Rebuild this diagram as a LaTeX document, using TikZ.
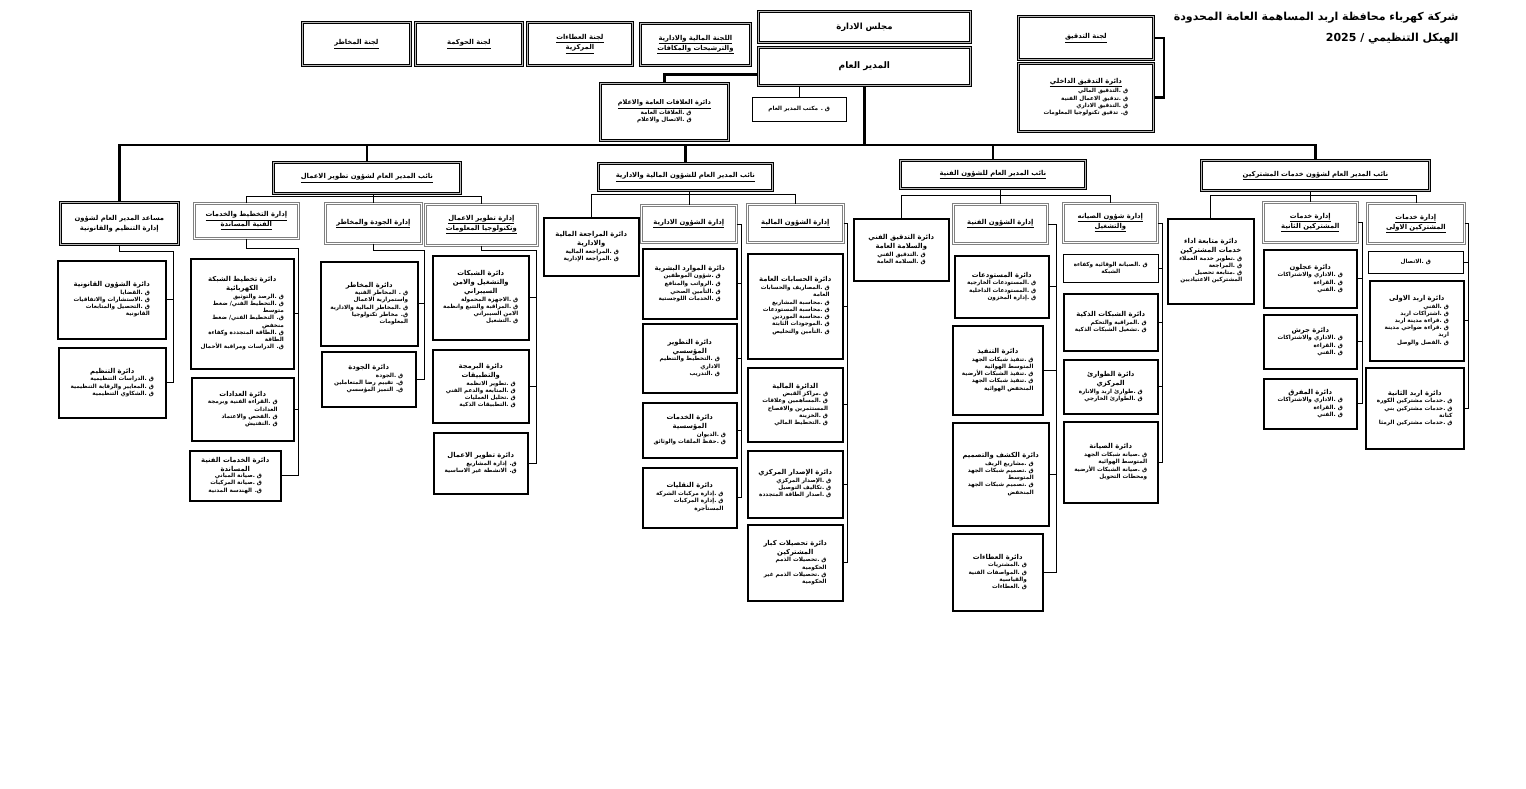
\documentclass[tikz,border=0pt]{standalone}
\usepackage{fontspec}
\newfontfamily\arfont[Script=Arabic]{DejaVu Sans}
\TeXXeTstate=1
\newcommand\ar[1]{\beginR#1\endR}
\newcommand\uar[1]{\underline{\beginR#1\endR}}
\newcommand\qlist[1]{{\fontsize{5.7}{7.2}\selectfont\begin{tabular}{@{}r@{}}#1\end{tabular}}}

\begin{document}
\begin{tikzpicture}[x=1pt,y=-1pt,
        box/.style={fill=white,anchor=north west,inner sep=1pt,align=center,
            font=\arfont\bfseries\fontsize{6.8}{9}\selectfont},
        cbox/.style={box,draw,line width=0.8pt,double=gray!55,double distance=1.4pt,
            font=\arfont\bfseries\fontsize{6.8}{10}\selectfont},
        abox/.style={box,draw=gray,line width=0.7pt,double=white,double distance=0.9pt,
            font=\arfont\bfseries\fontsize{6.8}{10}\selectfont},
        dbox/.style={box,draw,line width=1.5pt},
        qbox/.style={box,draw,line width=0.5pt,font=\arfont\bfseries\fontsize{5.7}{7.2}\selectfont},
        bus/.style={line width=2.4pt},
        lnk/.style={line width=0.7pt}]
                \useasboundingbox (0,0) rectangle (1526,789);
                \node[anchor=north east,align=right,font=\arfont\bfseries\fontsize{11}{21}\selectfont] (ttl) at (1462,9)
                    {\ar{شركة كهرباء محافظة اربد المساهمة العامة المحدودة}\\\ar{الهيكل التنظيمي / 2025}};
                \node[cbox,minimum width=108,minimum height=43] (crisk) at (302,22) {\uar{لجنة المخاطر}};
                \node[cbox,minimum width=107,minimum height=43] (cgov) at (415,22) {\uar{لجنة الحوكمة}};
                \node[cbox,minimum width=105,minimum height=43] (ctend) at (527,22) {\uar{لجنة العطاءات}\\\uar{المركزية}};
                \node[cbox,minimum width=110,minimum height=42] (cfin) at (640,23) {\uar{اللجنة المالية والادارية}\\\uar{والترشيحات والمكافات}};
                \node[cbox,minimum width=212,minimum height=31,font=\arfont\bfseries\fontsize{8.5}{10}\selectfont] (board) at (758,11) {\ar{مجلس الادارة}};
                \node[cbox,minimum width=212,minimum height=38,font=\arfont\bfseries\fontsize{9}{10}\selectfont] (gm) at (758,47) {\ar{المدير العام}};
                \node[cbox,minimum width=135,minimum height=43] (caud) at (1018,16) {\uar{لجنة التدقيق}};
                \node[cbox,minimum width=135,minimum height=68] (iaud) at (1018,63) {\uar{دائرة التدقيق الداخلي}\\
                    \qlist{\ar{ق .التدقيق المالي}\\\ar{ق .تدقيق الاعمال الفنية}\\\ar{ق .التدقيق الاداري}\\\ar{ق. تدقيق تكنولوجيا المعلومات}}};
                \node[cbox,minimum width=128,minimum height=57,font=\arfont\bfseries\fontsize{6.5}{8.5}\selectfont] (pr) at (600,83) {\uar{دائرة العلاقات العامة والاعلام}\\
                    \qlist{\ar{ق .العلاقات العامة}\\\ar{ق .الاتصال والاعلام}}};
                \node[qbox,minimum width=94,minimum height=24] (gmo) at (752,97) {\ar{ق . مكتب المدير العام}};
                \node[cbox,minimum width=228,minimum height=30] (dcs) at (1201,160) {\uar{نائب المدير العام لشؤون خدمات المشتركين}};
                \node[cbox,minimum width=185,minimum height=28] (dtech) at (900,160) {\uar{نائب المدير العام للشؤون الفنية}};
                \node[cbox,minimum width=174,minimum height=27] (dfin) at (598,163) {\uar{نائب المدير العام للشؤون المالية والادارية}};
                \node[cbox,minimum width=187,minimum height=31] (dbiz) at (273,162) {\uar{نائب المدير العام لشؤون تطوير الاعمال}};
                \node[cbox,minimum width=118,minimum height=42] (asst) at (60,202) {\ar{مساعد المدير العام لشؤون}\\\ar{إدارة التنظيم والقانونية}};
                \node[dbox,minimum width=86,minimum height=85] (follow) at (1167,218) {\ar{دائرة متابعة اداء}\\\ar{خدمات المشتركين}\\
                    \qlist{\ar{ق .تطوير خدمة العملاء}\\\ar{ق .المراجعة}\\\ar{ق .متابعة تحصيل}\\\ar{المشتركين الاعتياديين}}};
                \node[abox,minimum width=94,minimum height=40] (adm2) at (1263,202) {\uar{إدارة خدمات}\\\uar{المشتركين الثانية}};
                \node[abox,minimum width=97,minimum height=40] (adm1) at (1367,203) {\uar{إدارة خدمات}\\\uar{المشتركين الاولى}};
                \node[dbox,minimum width=93,minimum height=58] (ajl) at (1263,249) {\ar{دائرة عجلون}\\
                    \qlist{\ar{ق .الاداري والاشتراكات}\\\ar{ق .القراءة}\\\ar{ق .الفني}}};
                \node[dbox,minimum width=93,minimum height=54] (jrs) at (1263,314) {\ar{دائرة جرش}\\
                    \qlist{\ar{ق .الاداري والاشتراكات}\\\ar{ق .القراءة}\\\ar{ق .الفني}}};
                \node[dbox,minimum width=93,minimum height=50] (mfq) at (1263,378) {\ar{دائرة المفرق}\\
                    \qlist{\ar{ق .الاداري والاشتراكات}\\\ar{ق .القراءة}\\\ar{ق .الفني}}};
                \node[qbox,minimum width=95,minimum height=22] (conn) at (1368,251) {\ar{ق .الاتصال}};
                \node[dbox,minimum width=94,minimum height=80] (irb1) at (1369,280) {\ar{دائرة اربد الاولى}\\
                    \qlist{\ar{ق .الفني}\\\ar{ق .اشتراكات اربد}\\\ar{ق .قراءة مدينة اربد}\\\ar{ق .قراءة ضواحي مدينة}\\\ar{اربد}\\\ar{ق .الفصل والوصل}}};
                \node[dbox,minimum width=98,minimum height=81] (irb2) at (1365,367) {\ar{دائرة اربد الثانية}\\
                    \qlist{\ar{ق .خدمات مشتركين الكورة}\\\ar{ق .خدمات مشتركين بني}\\\ar{كنانة}\\\ar{ق .خدمات مشتركين الرمثا}}};
                \node[dbox,minimum width=95,minimum height=62] (taud) at (853,218) {\ar{دائرة التدقيق الفني}\\\ar{والسلامة العامة}\\
                    \qlist{\ar{ق .التدقيق الفني}\\\ar{ق .السلامة العامة}}};
                \node[abox,minimum width=94,minimum height=39] (atech) at (953,204) {\uar{إدارة الشؤون الفنية}};
                \node[abox,minimum width=94,minimum height=39] (amnt) at (1063,203) {\uar{إدارة شؤون الصيانه}\\\uar{والتشغيل}};
                \node[dbox,minimum width=94,minimum height=62] (stor) at (954,255) {\ar{دائرة المستودعات}\\
                    \qlist{\ar{ق .المستودعات الخارجية}\\\ar{ق .المستودعات الداخلية}\\\ar{ق .إدارة المخزون}}};
                \node[dbox,minimum width=90,minimum height=89] (exe) at (952,325) {\ar{دائرة التنفيذ}\\
                    \qlist{\ar{ق .تنفيذ شبكات الجهد}\\\ar{المتوسط الهوائية}\\\ar{ق .تنفيذ الشبكات الأرضية}\\\ar{ق .تنفيذ شبكات الجهد}\\\ar{المنخفض الهوائية}}};
                \node[dbox,minimum width=96,minimum height=103] (dsgn) at (952,422) {\ar{دائرة الكشف والتصميم}\\
                    \qlist{\ar{ق .مشاريع الريف}\\\ar{ق .تصميم شبكات الجهد}\\\ar{المتوسط}\\\ar{ق .تصميم شبكات الجهد}\\\ar{المنخفض}}};
                \node[dbox,minimum width=90,minimum height=77] (tend) at (952,533) {\ar{دائرة العطاءات}\\
                    \qlist{\ar{ق .المشتريات}\\\ar{ق .المواصفات الفنية}\\\ar{والقياسية}\\\ar{ق .العطاءات}}};
                \node[qbox,minimum width=95,minimum height=28] (prev) at (1063,254) {\ar{ق .الصيانة الوقائية وكفاءة}\\\ar{الشبكة}};
                \node[dbox,minimum width=94,minimum height=57] (smart) at (1063,293) {\ar{دائرة الشبكات الذكية}\\
                    \qlist{\ar{ق .المراقبة والتحكم}\\\ar{ق .تشغيل الشبكات الذكية}}};
                \node[dbox,minimum width=94,minimum height=54] (emer) at (1063,359) {\ar{دائرة الطوارئ}\\\ar{المركزي}\\
                    \qlist{\ar{ق .طوارئ اربد والانارة}\\\ar{ق .الطوارئ الخارجي}}};
                \node[dbox,minimum width=94,minimum height=81] (maint) at (1063,421) {\ar{دائرة الصيانة}\\
                    \qlist{\ar{ق .صيانة شبكات الجهد}\\\ar{المتوسط الهوائية}\\\ar{ق .صيانة الشبكات الأرضية}\\\ar{ومحطات التحويل}}};
                \node[dbox,minimum width=95,minimum height=58] (rev) at (543,217) {\ar{دائرة المراجعة المالية}\\\ar{والادارية}\\
                    \qlist{\ar{ق .المراجعة المالية}\\\ar{ق .المراجعة الإدارية}}};
                \node[abox,minimum width=95,minimum height=37] (aadm) at (641,205) {\uar{إدارة الشؤون الادارية}};
                \node[abox,minimum width=96,minimum height=38] (afin) at (747,204) {\uar{إدارة الشؤون المالية}};
                \node[dbox,minimum width=94,minimum height=70] (hr) at (642,248) {\ar{دائرة الموارد البشرية}\\
                    \qlist{\ar{ق .شؤون الموظفين}\\\ar{ق .الرواتب والمنافع}\\\ar{ق .التأمين الصحي}\\\ar{ق .الخدمات اللوجستية}}};
                \node[dbox,minimum width=94,minimum height=69] (idev) at (642,323) {\ar{دائرة التطوير}\\\ar{المؤسسي}\\
                    \qlist{\ar{ق .التخطيط والتنظيم}\\\ar{الاداري}\\\ar{ق .التدريب}}};
                \node[dbox,minimum width=94,minimum height=55] (isrv) at (642,402) {\ar{دائرة الخدمات}\\\ar{المؤسسية}\\
                    \qlist{\ar{ق .الديوان}\\\ar{ق .حفظ الملفات والوثائق}}};
                \node[dbox,minimum width=94,minimum height=60] (trans) at (642,467) {\ar{دائرة النقليات}\\
                    \qlist{\ar{ق .إدارة مركبات الشركة}\\\ar{ق .إدارة المركبات}\\\ar{المستأجرة}}};
                \node[dbox,minimum width=95,minimum height=105] (acc) at (747,253) {\ar{دائرة الحسابات العامة}\\
                    \qlist{\ar{ق .المصاريف والحسابات}\\\ar{العامة}\\\ar{ق .محاسبة المشاريع}\\\ar{ق .محاسبة المستودعات}\\\ar{ق .محاسبة الموردين}\\\ar{ق .الموجودات الثابتة}\\\ar{ق .التأمين والتخليص}}};
                \node[dbox,minimum width=95,minimum height=74] (fdep) at (747,367) {\ar{الدائرة المالية}\\
                    \qlist{\ar{ق .مراكز القبض}\\\ar{ق .المساهمين وعلاقات}\\\ar{المستثمرين والافصاح}\\\ar{ق .الخزينة}\\\ar{ق .التخطيط المالي}}};
                \node[dbox,minimum width=95,minimum height=67] (issue) at (747,450) {\ar{دائرة الإصدار المركزي}\\
                    \qlist{\ar{ق .الإصدار المركزي}\\\ar{ق .تكاليف التوصيل}\\\ar{ق .اصدار الطاقة المتجددة}}};
                \node[dbox,minimum width=95,minimum height=76] (big) at (747,524) {\ar{دائرة تحصيلات كبار}\\\ar{المشتركين}\\
                    \qlist{\ar{ق .تحصيلات الذمم}\\\ar{الحكومية}\\\ar{ق .تحصيلات الذمم غير}\\\ar{الحكومية}}};
                \node[abox,minimum width=104,minimum height=35] (aplan) at (194,203) {\uar{إدارة التخطيط والخدمات}\\\uar{الفنية المساندة}};
                \node[abox,minimum width=96,minimum height=40] (aqr) at (325,203) {\uar{إدارة الجودة والمخاطر}};
                \node[abox,minimum width=112,minimum height=41] (ait) at (425,204) {\uar{إدارة تطوير الاعمال}\\\uar{وتكنولوجيا المعلومات}};
                \node[dbox,minimum width=97,minimum height=84] (risk) at (320,261) {\ar{دائرة المخاطر}\\
                    \qlist{\ar{ق . المخاطر الفنية}\\\ar{واستمرارية الاعمال}\\\ar{ق .المخاطر المالية والادارية}\\\ar{ق. مخاطر تكنولوجيا}\\\ar{المعلومات}}};
                \node[dbox,minimum width=94,minimum height=55] (qual) at (321,351) {\ar{دائرة الجودة}\\
                    \qlist{\ar{ق .الجودة}\\\ar{ق. تقييم رضا المتعاملين}\\\ar{ق. التميز المؤسسي}}};
                \node[dbox,minimum width=96,minimum height=84] (net) at (432,255) {\ar{دائرة الشبكات}\\\ar{والتشغيل والامن}\\\ar{السيبراني}\\
                    \qlist{\ar{ق .الاجهزة المحمولة}\\\ar{ق .المراقبة والتتبع وانظمة}\\\ar{الامن السيبراني}\\\ar{ق .التشغيل}}};
                \node[dbox,minimum width=96,minimum height=73] (prog) at (432,349) {\ar{دائرة البرمجة}\\\ar{والتطبيقات}\\
                    \qlist{\ar{ق .تطوير الانظمة}\\\ar{ق .المتابعة والدعم الفني}\\\ar{ق .تحليل العمليات}\\\ar{ق .التطبيقات الذكية}}};
                \node[dbox,minimum width=94,minimum height=61] (bdev) at (433,432) {\ar{دائرة تطوير الاعمال}\\
                    \qlist{\ar{ق. إدارة المشاريع}\\\ar{ق. الانشطة غير الاساسية}}};
                \node[dbox,minimum width=103,minimum height=110] (gplan) at (190,258) {\ar{دائرة تخطيط الشبكة}\\\ar{الكهربائية}\\
                    \qlist{\ar{ق .الرصد والتوثيق}\\\ar{ق .التخطيط الفني/ ضغط}\\\ar{متوسط}\\\ar{ق. التخطيط الفني/ ضغط}\\\ar{منخفض}\\\ar{ق .الطاقة المتجددة وكفاءة}\\\ar{الطاقة}\\\ar{ق. الدراسات ومراقبة الأحمال}}};
                \node[dbox,minimum width=102,minimum height=63] (meter) at (191,377) {\ar{دائرة العدادات}\\
                    \qlist{\ar{ق .القراءة الفنية وبرمجة}\\\ar{العدادات}\\\ar{ق .الفحص والاعتماد}\\\ar{ق .التفتيش}}};
                \node[dbox,minimum width=91,minimum height=50] (tsup) at (189,450) {\ar{دائرة الخدمات الفنية}\\\ar{المساندة}\\
                    \qlist{\ar{ق .صيانة المباني}\\\ar{ق .صيانة المركبات}\\\ar{ق. الهندسة المدنية}}};
                \node[dbox,minimum width=108,minimum height=78] (legal) at (57,260) {\ar{دائرة الشؤون القانونية}\\
                    \qlist{\ar{ق .القضايا}\\\ar{ق .الاستشارات والاتفاقيات}\\\ar{ق .التحصيل والمتابعات}\\\ar{القانونية}}};
                \node[dbox,minimum width=107,minimum height=70] (org) at (58,347) {\ar{دائرة التنظيم}\\
                    \qlist{\ar{ق .الدراسات التنظيمية}\\\ar{ق .المعايير والرقابة التنظيمية}\\\ar{ق .الشكاوي التنظيمية}}};
                \coordinate (yM) at (0,145);
                \coordinate (yCS) at (0,195);
                \coordinate (yTE) at (0,195);
                \coordinate (yFI) at (0,194);
                \coordinate (yBZ) at (0,196);
                \coordinate (sCS2) at (1362,0);
                \coordinate (sCS1) at (1468,0);
                \coordinate (sTE) at (1056,0);
                \coordinate (sMN) at (1162,0);
                \coordinate (sAD) at (741,0);
                \coordinate (sFI) at (847,0);
                \coordinate (kPL) at (298,248);
                \coordinate (kQR) at (424,250);
                \coordinate (kIT) at (536,250);
                \coordinate (kAS) at (173,251);
                \draw[bus] (caud.east) -- ++(10,0) |- (iaud.east);
                \draw[bus] ([yshift=-8pt]gm.west) -| (pr.north);
                \draw[lnk] (gmo.north) -- (gmo.north |- gm.south);
                \draw[bus] (gm.south) -- (gm.south |- yM);
                \draw[bus] (asst.north) |- (dcs.north |- yM) -- (dcs.north);
                \foreach \n in {dbiz,dfin,dtech}
                    \draw[bus] (\n.north |- yM) -- (\n.north);
                \draw[lnk] (follow.north) |- (adm1.north |- yCS) -- (adm1.north);
                \draw[lnk] (adm2.north) -- (adm2.north |- dcs.south);
                \draw[lnk] (taud.north) |- (amnt.north |- yTE) -- (amnt.north);
                \draw[lnk] (atech.north) -- (atech.north |- dtech.south);
                \draw[lnk] (rev.north) |- (afin.north |- yFI) -- (afin.north);
                \draw[lnk] (aadm.north) -- (aadm.north |- dfin.south);
                \draw[lnk] (aplan.north) |- (ait.north |- yBZ) -- (ait.north);
                \draw[lnk] (aqr.north) -- (aqr.north |- dbiz.south);
                \draw[lnk] (adm2.east) -| (sCS2 |- mfq.east) -- (mfq.east);
                \foreach \n in {ajl,jrs}
                    \draw[lnk] (sCS2 |- \n.east) -- (\n.east);
                \draw[lnk] (adm1.east) -| (sCS1 |- irb2.east) -- (irb2.east);
                \foreach \n in {conn,irb1}
                    \draw[lnk] (sCS1 |- \n.east) -- (\n.east);
                \draw[lnk] (atech.east) -| (sTE |- tend.east) -- (tend.east);
                \foreach \n in {stor,exe,dsgn}
                    \draw[lnk] (sTE |- \n.east) -- (\n.east);
                \draw[lnk] (amnt.east) -| (sMN |- maint.east) -- (maint.east);
                \foreach \n in {prev,smart,emer}
                    \draw[lnk] (sMN |- \n.east) -- (\n.east);
                \draw[lnk] (aadm.east) -| (sAD |- trans.east) -- (trans.east);
                \foreach \n in {hr,idev,isrv}
                    \draw[lnk] (sAD |- \n.east) -- (\n.east);
                \draw[lnk] (afin.east) -| (sFI |- big.east) -- (big.east);
                \foreach \n in {acc,fdep,issue}
                    \draw[lnk] (sFI |- \n.east) -- (\n.east);
                \draw[lnk] (aplan.south) |- (kPL) |- (tsup.east);
                \foreach \n in {gplan,meter}
                    \draw[lnk] (kPL |- \n.east) -- (\n.east);
                \draw[lnk] (aqr.south) |- (kQR) |- (qual.east);
                \draw[lnk] (kQR |- risk.east) -- (risk.east);
                \draw[lnk] (ait.south) |- (kIT) |- (bdev.east);
                \foreach \n in {net,prog}
                    \draw[lnk] (kIT |- \n.east) -- (\n.east);
                \draw[lnk] (asst.south) |- (kAS) |- (org.east);
                \draw[lnk] (kAS |- legal.east) -- (legal.east);
            \end{tikzpicture}
\end{document}
